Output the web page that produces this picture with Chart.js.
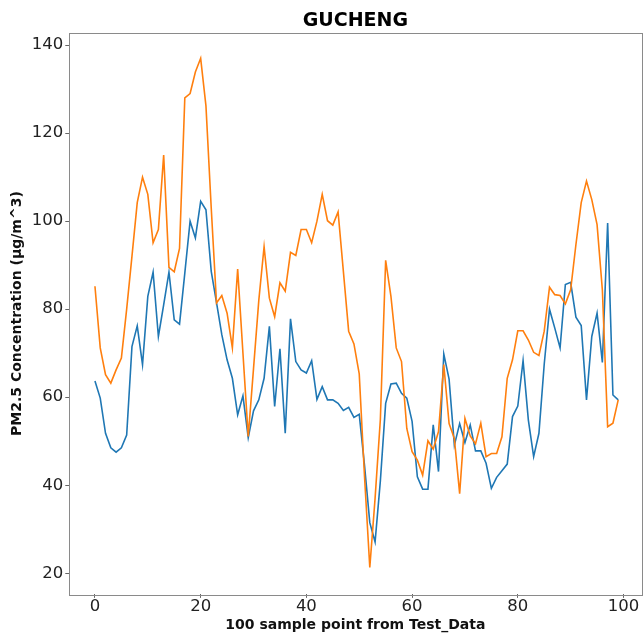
<!DOCTYPE html>
<html>
<head>
<meta charset="utf-8">
<script src="https://cdn.jsdelivr.net/npm/chart.js@4.4.1/dist/chart.umd.min.js"></script>
<style>
  html, body { margin: 0; padding: 0; background: #fff; }
  #wrap { width: 643px; height: 638px; }
</style>
</head>
<body>
<div id="wrap"><canvas id="chart" width="643" height="638"></canvas></div>
<script>
// PM2.5 at Gucheng: measured vs predicted, 100 test samples
const stationName = "GUCHENG";

const actualPm25 = [
  63.7, 59.8, 51.8, 48.5, 47.5, 48.5, 51.4, 71.5, 76.2, 67.4,
  82.9, 88.4, 73.8, 81.0, 88.4, 77.6, 76.6, 88.2, 100.0, 96.2,
  104.5, 102.6, 88.6, 81.5, 74.2, 68.5, 64.3, 56.0, 60.3, 50.8,
  56.9, 59.4, 64.3, 76.1, 57.9, 71.0, 51.8, 77.8, 68.1, 66.2,
  65.5, 68.3, 59.5, 62.4, 59.4, 59.4, 58.6, 57.0, 57.7, 55.4,
  56.1, 44.5, 31.5, 27.1, 41.0, 58.6, 63.0, 63.2, 60.9, 59.8,
  54.5, 41.9, 39.1, 39.1, 53.7, 43.1, 69.8, 64.1, 49.1, 54.0,
  49.7, 53.7, 47.8, 47.8, 45.0, 39.3, 41.8, 43.3, 44.8, 55.6,
  58.0, 68.3, 54.8, 46.5, 51.8, 67.5, 80.0, 75.7, 71.2, 85.6,
  86.1, 78.2, 76.3, 59.4, 73.8, 79.1, 67.9, 99.6, 60.5, 59.4
];

const predictedPm25 = [
  85.2, 71.2, 65.1, 63.2, 66.2, 68.9, 80.0, 92.0, 104.2, 110.0,
  106.1, 95.1, 98.1, 115.0, 89.5, 88.5, 93.8, 128.0, 129.0, 133.9,
  137.0, 126.2, 103.0, 81.4, 83.1, 79.1, 71.2, 89.1, 70.0, 51.1,
  66.5, 82.0, 94.2, 82.5, 78.3, 86.0, 84.1, 92.9, 92.2, 98.1,
  98.1, 95.1, 100.0, 106.1, 100.1, 99.1, 102.1, 88.6, 75.0, 72.1,
  65.3, 42.0, 21.3, 37.0, 55.0, 91.1, 82.9, 71.2, 68.1, 52.9,
  47.6, 45.7, 42.3, 50.1, 48.2, 52.2, 67.4, 54.0, 50.6, 38.1,
  55.2, 51.2, 49.4, 54.1, 46.5, 47.2, 47.2, 51.0, 64.3, 68.5,
  75.1, 75.1, 73.0, 70.2, 69.5, 75.0, 85.0, 83.3, 83.1, 81.2,
  84.4, 94.7, 104.2, 109.1, 104.9, 99.2, 84.4, 53.3, 54.1, 59.4
];

const xTicks = [0, 20, 40, 60, 80, 100];
const yTicks = [20, 40, 60, 80, 100, 120, 140];

const xTitle = "100 sample point from Test_Data";
const yTitle = "PM2.5 Concentration (μg/m^3)";

const FONT = "'DejaVu Sans', 'Liberation Sans', sans-serif";

function toPoints(values) {
  return values.map((v, i) => ({ x: i, y: v }));
}

// box around the plot area, all four sides like a matplotlib axes
const frame = {
  id: "frame",
  afterDraw(chart) {
    const { ctx, chartArea: a } = chart;
    ctx.save();
    ctx.strokeStyle = "#8a8a8a";
    ctx.lineWidth = 1;
    ctx.strokeRect(Math.round(a.left) + 0.5, Math.round(a.top) + 0.5,
      Math.round(a.right - a.left), Math.round(a.bottom - a.top));
    ctx.restore();
  },
};

const tickGrid = {
  display: true,
  drawOnChartArea: false,
  drawTicks: true,
  tickLength: 3.5,
  color: "#666",
};

new Chart(document.getElementById("chart"), {
  type: "line",
  data: {
    datasets: [
      {
        label: "actual",
        data: toPoints(actualPm25),
        borderColor: "#1f77b4",
        borderWidth: 1.6,
        pointRadius: 0,
        tension: 0,
        order: 1,
      },
      {
        label: "predicted",
        data: toPoints(predictedPm25),
        borderColor: "#ff7f0e",
        borderWidth: 1.6,
        pointRadius: 0,
        tension: 0,
        order: 0,
      },
    ],
  },
  options: {
    responsive: false,
    animation: false,
    devicePixelRatio: 1,
    layout: { padding: { top: 0, right: 1, bottom: 4, left: 9 } },
    plugins: {
      legend: { display: false },
      tooltip: { enabled: false },
    },
    scales: {
      x: {
        type: "linear",
        position: "bottom",
        min: -4.95,
        max: 103.5,
        afterBuildTicks: (axis) => { axis.ticks = xTicks.map((v) => ({ value: v })); },
        ticks: { font: { family: FONT, size: 16.5, lineHeight: 1.05 }, color: "#222", padding: 0, maxRotation: 0 },
        grid: tickGrid,
        border: { display: false },
        title: {
          display: true,
          text: xTitle,
          font: { family: FONT, size: 14, weight: "bold" },
          color: "#111",
          padding: { top: 2, bottom: 0 },
        },
      },
      top: {
        type: "linear",
        position: "top",
        min: 0,
        max: 1,
        ticks: { display: false },
        grid: { display: false, drawTicks: false },
        border: { display: false },
        title: {
          display: true,
          text: stationName,
          font: { family: FONT, size: 19, weight: "bold" },
          color: "#000",
          padding: { top: 10, bottom: 0 },
        },
      },
      y: {
        type: "linear",
        min: 15.2,
        max: 142.8,
        afterBuildTicks: (axis) => { axis.ticks = yTicks.map((v) => ({ value: v })); },
        ticks: { font: { family: FONT, size: 16.5 }, color: "#222", padding: 2 },
        grid: tickGrid,
        border: { display: false },
        title: {
          display: true,
          text: yTitle,
          font: { family: FONT, size: 14, weight: "bold" },
          color: "#111",
          padding: { top: 0, bottom: 4 },
        },
      },
    },
  },
  plugins: [frame],
});
</script>
</body>
</html>
